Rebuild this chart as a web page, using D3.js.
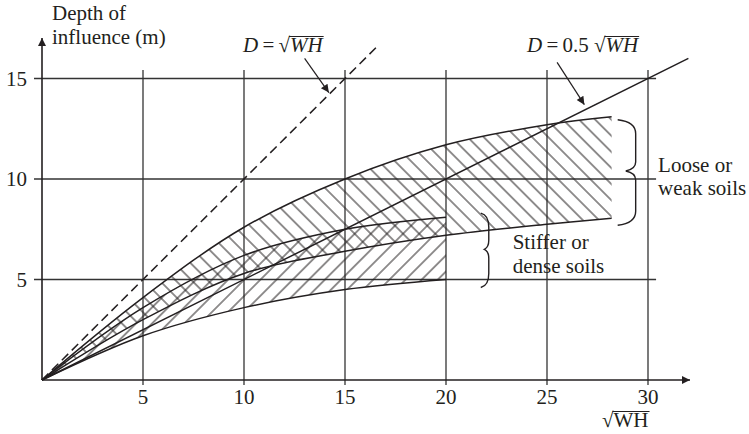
<!DOCTYPE html>
<html>
<head>
<meta charset="utf-8">
<script src="https://cdn.jsdelivr.net/npm/d3@7"></script>
<style>
  html, body { margin: 0; padding: 0; background: #fff; }
  svg { display: block; }
  text { font-family: "Liberation Serif", "Times New Roman", serif; fill: #231f20; }
</style>
</head>
<body>
<svg id="chart" width="749" height="434"></svg>
<script>
// Axis ticks
const xTicks = [5, 10, 15, 20, 25, 30];
const yTicks = [5, 10, 15];

// Loose or weak soils band (√WH, lower and upper depth of influence, m)
const looseX  = [0, 5, 10, 15, 20, 25, 28.2];
const looseHi = [0, 4.1, 7.6, 10.0, 11.7, 12.7, 13.1];
const looseLo = [0, 3.0, 5.3, 6.4, 7.2, 7.75, 8.05];

// Stiffer or dense soils band
const stiffX  = [0, 5, 10, 15, 20];
const stiffHi = [0, 3.6, 6.2, 7.5, 8.1];
const stiffLo = [0, 2.2, 3.6, 4.5, 5.0];

// Reference lines D = √WH and D = 0.5√WH
const sqrtLineX = [0, 16.6];
const halfLineX = [0, 32];

// Annotations: brace spans (depth range) and their label anchors
const looseBrace = { x: 28.9, top: 12.95, bottom: 7.7, mid: 10.4 };
const stiffBrace = { x: 21.9, top: 8.3, bottom: 4.6, mid: 6.5 };

const svg = d3.select("#chart");
const ink = "#231f20";

const x = d3.scaleLinear().domain([0, 30]).range([42, 648]);
const y = d3.scaleLinear().domain([0, 15]).range([380, 78.5]);

// ---------- defs: hatching and arrowheads ----------
const defs = svg.append("defs");
function hatch(id, angle) {
  const s = 11.4;
  const p = defs.append("pattern")
    .attr("id", id)
    .attr("patternUnits", "userSpaceOnUse")
    .attr("width", s).attr("height", s)
    .attr("patternTransform", `rotate(${angle})`);
  p.append("line")
    .attr("x1", s / 2).attr("x2", s / 2)
    .attr("y1", -1).attr("y2", s + 1)
    .attr("stroke", ink).attr("stroke-width", 1);
}
hatch("hatchBack", -45);
hatch("hatchFwd", 45);

defs.append("marker")
  .attr("id", "arrow")
  .attr("viewBox", "0 0 10 10")
  .attr("refX", 10).attr("refY", 5)
  .attr("markerWidth", 10).attr("markerHeight", 8)
  .attr("markerUnits", "userSpaceOnUse")
  .attr("orient", "auto")
  .append("path").attr("d", "M0,0 L10,5 L0,10 Z").attr("fill", ink);

// ---------- grid ----------
const grid = svg.append("g").attr("stroke", "#333").attr("stroke-width", 1.3);
grid.selectAll(".hg").data(yTicks).join("line")
  .attr("x1", x(0) - 8).attr("x2", x(30.4))
  .attr("y1", d => y(d)).attr("y2", d => y(d));
grid.selectAll(".vg").data(xTicks).join("line")
  .attr("x1", d => x(d)).attr("x2", d => x(d))
  .attr("y1", y(0) + 5).attr("y2", y(15.42));

// ---------- hatched bands ----------
const curve = d3.curveCatmullRom.alpha(0.5);
function band(xs, lo, hi) {
  return d3.area().curve(curve)
    .x((d, i) => x(xs[i]))
    .y0((d, i) => y(lo[i]))
    .y1((d, i) => y(hi[i]))(xs);
}
svg.append("path").attr("d", band(looseX, looseLo, looseHi)).attr("fill", "url(#hatchBack)");
svg.append("path").attr("d", band(stiffX, stiffLo, stiffHi)).attr("fill", "url(#hatchFwd)");

// ---------- band boundary curves ----------
function curvePath(xs, ys) {
  return d3.line().curve(curve).x((d, i) => x(xs[i])).y((d, i) => y(ys[i]))(xs);
}
const curves = svg.append("g").attr("fill", "none").attr("stroke", ink).attr("stroke-width", 1.5);
[[looseX, looseHi], [looseX, looseLo], [stiffX, stiffHi], [stiffX, stiffLo]].forEach(([xs, ys]) => {
  curves.append("path").attr("d", curvePath(xs, ys));
});

// D = 0.5 √WH
curves.append("path").attr("d", d3.line().x(d => x(d)).y(d => y(0.5 * d))(halfLineX));
// D = √WH (dashed)
curves.append("path").attr("d", d3.line().x(d => x(d)).y(d => y(d))(sqrtLineX))
  .attr("stroke-dasharray", "9,5");

// ---------- axes ----------
const axes = svg.append("g").attr("stroke", ink).attr("stroke-width", 1.6);
axes.append("line").attr("x1", x(0)).attr("y1", y(0)).attr("x2", x(0)).attr("y2", 38)
  .attr("marker-end", "url(#arrow)");
axes.append("line").attr("x1", x(0)).attr("y1", y(0)).attr("x2", 690).attr("y2", y(0))
  .attr("marker-end", "url(#arrow)");

svg.append("g").selectAll("text").data(xTicks).join("text")
  .attr("x", d => x(d)).attr("y", y(0) + 24)
  .attr("text-anchor", "middle").attr("font-size", 21)
  .text(d => d);
svg.append("g").selectAll("text").data(yTicks).join("text")
  .attr("x", 27).attr("y", d => y(d) + 7)
  .attr("text-anchor", "end").attr("font-size", 21)
  .text(d => d);

// axis titles
const yTitle = svg.append("text").attr("font-size", 21);
yTitle.append("tspan").attr("x", 52).attr("y", 20).text("Depth of");
yTitle.append("tspan").attr("x", 52).attr("y", 43.5).text("influence (m)");

// radical helper: draws pieces in sequence and an overline over the radicand
function radical(x0, baseline, pieces, size) {
  const g = svg.append("g");
  let cx = x0, over = null;
  pieces.forEach(p => {
    const t = g.append("text").attr("x", cx).attr("y", baseline)
      .attr("font-size", size)
      .attr("font-style", p.italic ? "italic" : "normal")
      .text(p.text);
    const w = t.node().getComputedTextLength();
    if (p.radicand) over = [cx, cx + w];
    cx += w;
  });
  if (over) {
    g.append("line").attr("x1", over[0] - 1).attr("x2", over[1] + 1)
      .attr("y1", baseline - size * 0.74).attr("y2", baseline - size * 0.74)
      .attr("stroke", ink).attr("stroke-width", 1.1);
  }
  return cx;
}

const thin = "\u2009";
radical(602, 427, [{ text: "√" }, { text: "WH", radicand: true }], 21);
radical(243, 52, [{ text: "D", italic: true }, { text: thin + "=" + thin }, { text: "√" }, { text: "WH", italic: true, radicand: true }], 21);
radical(527, 52, [{ text: "D", italic: true }, { text: thin + "=" + thin + "0.5\u00A0" }, { text: "√" }, { text: "WH", italic: true, radicand: true }], 21);

// pointer arrows from the line labels
const arrows = svg.append("g").attr("stroke", ink).attr("stroke-width", 1.2);
arrows.append("line").attr("x1", x(13.0)).attr("y1", y(16.0)).attr("x2", x(14.2)).attr("y2", y(14.3))
  .attr("marker-end", "url(#arrow)");
arrows.append("line").attr("x1", x(25.5)).attr("y1", y(15.8)).attr("x2", x(26.85)).attr("y2", y(13.7))
  .attr("marker-end", "url(#arrow)");

// ---------- braces ----------
function brace(b, w) {
  const x0 = x(b.x) - w * 0.45, xb = x0 + w, t = y(b.top), bt = y(b.bottom), m = y(b.mid);
  const p = d3.path();
  p.moveTo(x0, t);
  p.quadraticCurveTo(xb, t + 2, xb, t + 14);
  p.lineTo(xb, m - 9);
  p.quadraticCurveTo(xb, m - 2, x0 + w * 0.45, m);
  p.quadraticCurveTo(xb, m + 2, xb, m + 9);
  p.lineTo(xb, bt - 14);
  p.quadraticCurveTo(xb, bt - 2, x0, bt);
  svg.append("path").attr("d", p.toString()).attr("fill", "none")
    .attr("stroke", ink).attr("stroke-width", 1.4);
}
brace(looseBrace, 18);
brace(stiffBrace, 8);

const lab = svg.append("g").attr("font-size", 21);
const l1 = lab.append("text");
l1.append("tspan").attr("x", x(30.5)).attr("y", y(10) - 7).text("Loose or");
l1.append("tspan").attr("x", x(30.5)).attr("y", y(10) + 16).text("weak soils");
const l2 = lab.append("text");
l2.append("tspan").attr("x", x(23.3)).attr("y", y(stiffBrace.mid)).text("Stiffer or");
l2.append("tspan").attr("x", x(23.3)).attr("y", y(stiffBrace.mid) + 24).text("dense soils");
</script>
</body>
</html>
